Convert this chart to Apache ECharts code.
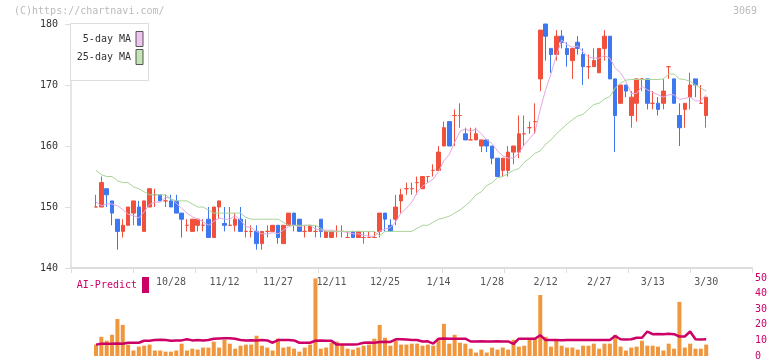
<!DOCTYPE html>
<html><head><meta charset="utf-8">
<script src="https://cdn.jsdelivr.net/npm/echarts@6/dist/echarts.min.js"></script>
<style>html,body{margin:0;padding:0;background:#fff;}#c{width:772px;height:361px;}</style>
</head><body><div id="c"></div>
<script>
const dates = ['10/7','10/8','10/9','10/10','10/14','10/15','10/16','10/17','10/20','10/21',
'10/22','10/23','10/24','10/27','10/28','10/29','10/30','10/31','11/4','11/5',
'11/6','11/7','11/10','11/11','11/12','11/13','11/14','11/17','11/18','11/19',
'11/20','11/21','11/25','11/26','11/27','11/28','12/1','12/2','12/3','12/4',
'12/5','12/8','12/9','12/10','12/11','12/12','12/15','12/16','12/17','12/18',
'12/19','12/22','12/23','12/24','12/25','12/26','12/29','12/30','1/5','1/6',
'1/7','1/8','1/9','1/13','1/14','1/15','1/16','1/19','1/20','1/21',
'1/22','1/23','1/26','1/27','1/28','1/29','1/30','2/2','2/3','2/4',
'2/5','2/6','2/9','2/10','2/12','2/13','2/16','2/17','2/18','2/19',
'2/20','2/24','2/25','2/26','2/27','3/2','3/3','3/4','3/5','3/6',
'3/9','3/10','3/11','3/12','3/13','3/16','3/17','3/18','3/19','3/23',
'3/24','3/25','3/26','3/27','3/30'];
const labelDates = ['10/28','11/12','11/27','12/11','12/25','1/14','1/28','2/12','2/27','3/13','3/30'];

const open = [150,150,153,151,148,146,147,149,150,146, 150,152,152,151,151,151,149,147,146,147,
147,148,145,150,147.3,147,147,148,146,146, 146,144,146,146,147,144,147,149,148,146,
146,146,148,145,145,146,146,145,146,145, 145,145,145,146,149,147,148,151,153,153,
154,153,155,156,156,160,164,165,165,162, 161,161,160,161,160,158,156,156,159,159,
162,163,164,171,180,176,175,178,176,174, 177,175,173,173,172,176,178,171,167,170,
165,167,171,171,167,167,167,173,171,165, 166,168,171,167,165];
const close = [150,154,152,149,146,147,150,151,147,151, 153,152,151,151,150,149,148,147,148,148,
147,145,150,151,147,147,148,146,146,146, 144,146,146,147,145,147,149,147,146,146,
147,146,146,146,146,146,146,145,145,146, 145,145,145,149,148,146,150,152,153,153,
154,155,155,156,159,163,160,165,165,161, 161,162,161,160,158,155,158,159,160,162,
162,163,164,179,178,175,178,177,175,176, 176,173,173,174,176,178,171,165,170,169,
168,171,171,167,167,166,169,173,167,163, 167,170,170,167,168];
const low = [150,150,150,147,143,145,147,147,147,146, 150,150,151,150,150,149,145,146,146,146,
146,145,145,148,146,147,146,146,145,145, 143,143,145,146,144,144,147,146,146,145,
146,145,145,145,145,145,145,145,145,145, 144,145,145,145,146,146,147,149,152,152,
152,153,154,155,156,160,160,160,163,161, 161,161,159,159,157,155,155,155,157,158,
160,162,162,169,174,172,174,176,173,171, 175,170,171,173,172,174,171,159,167,168,
163,164,169,166,166,165,166,171,167,160, 163,166,168,167,163];
const high = [152,155,153,151,148,148,150,151,151,151, 153,153,152,152,152,152,149,148,148,148,
148,150,150,151,150,150,149,150,148,147, 147,146,147,147,147,147,149,149,148,147,
147,147,148,146,146,147,147,146,146,146, 146,146,146,149,149,148,152,153,154,154,
155,155,155,157,160,164,164,166,167,163, 163,163,161,161,160,158,158,160,160,165,
165,164,167,179,180,176,179,179,177,176, 178,176,175,176,176,179,178,171,170,170,
169,171,171,171,169,168,171,173,171,167, 167,172,171,170,168];

const ma5 = [150.8,150.2,150.5,150.5,150.2,149.6,148.8,148.6,148.2,149.2,
150.4,150.8,150.8,151.6,151.4,150.6,149.8,149.0,148.4,148.0,
147.6,147.0,147.6,148.2,148.0,148.0,148.6,147.8,146.8,146.6,
146.0,145.6,145.6,145.8,145.6,146.2,146.8,147.0,146.8,147.0,
147.0,146.4,146.2,146.2,146.2,146.0,146.0,145.8,145.6,145.6,
145.4,145.2,145.2,146.0,146.4,146.6,147.6,149.0,149.8,150.8,
152.4,153.4,154.0,154.6,155.8,157.6,158.6,160.6,162.4,162.8,
162.4,162.8,162.0,161.0,160.4,159.2,158.4,158.0,158.0,158.8,
160.2,161.2,162.2,166.0,169.2,171.8,174.8,177.4,176.6,176.2,
176.4,175.4,174.6,174.4,174.4,174.8,174.4,172.8,172.0,170.6,
168.6,168.6,169.8,169.2,168.8,168.4,168.0,168.4,168.4,167.6,
167.8,168.0,167.4,167.4,168.4];
const ma25 = [156,155.3,155,155,154.3,154,154,153.3,153,152.5,
152,152,152,152,151.3,151,151,151,150.5,150,
150,149.5,149,149,149,149,149,149,148.3,148,
148,148,148,148,148,147.5,147,147,147,147,
147,147,146.5,146,146,146,146,146,146,146,
146,146,146,145.3,146,146,146,146,146,146,
146.5,147,147,147.5,148,148.2,148.5,149,149.5,150.2,
151,152,152.5,153.5,154,154.8,155,155.5,156,156.3,
157.3,158,158.8,159.2,160.3,161,162,162.8,163.6,164.3,
164.9,165.2,166,166.8,167,167.7,168.1,169.5,170.3,170.8,
170.9,170.9,170.9,170.9,170.9,170.9,171,171.8,171.8,171,
170.9,170.6,170,169.5,169];

const volume = [7.3,12.3,9.8,13.6,23.7,19.9,7.3,3.5,6.0,6.6,
7.3,3.5,3.5,2.8,2.8,3.5,7.9,3.5,4.7,4.1,
5.4,5.4,9.2,5.4,10.4,7.9,4.7,6.6,7.3,7.3,
13.0,6.6,5.4,3.5,11.1,5.4,6.0,4.7,2.8,5.4,
7.3,49.7,4.7,5.4,8.5,9.2,7.3,4.7,4.1,5.4,
6.6,7.3,11.1,19.9,11.7,6.6,9.8,7.3,7.3,7.9,
7.9,6.6,7.3,6.6,11.1,20.6,7.9,13.6,8.5,7.9,
4.7,2.2,4.1,2.2,5.4,4.1,5.4,4.1,10.4,6.0,
6.6,10.4,11.1,39.1,12.3,6.0,9.8,6.6,5.4,5.4,
4.1,6.6,6.6,7.9,4.7,7.9,7.9,13.6,6.0,3.5,
5.4,6.0,9.8,6.6,6.6,6.0,3.5,7.9,4.7,34.7,
5.4,7.9,4.7,4.7,7.3];
const aiPredict = [7.3,7.9,7.9,7.9,8.0,7.9,8.5,8.5,8.5,9.8,
9.8,10.2,10.4,10.2,9.8,9.9,10.0,10.7,10.0,10.2,
10.0,10.3,11.1,11.2,11.3,11.3,11.1,10.3,10.0,10.1,
10.0,10.2,10.0,8.5,10.2,10.3,10.2,10.0,8.5,8.5,
8.5,9.8,9.9,9.8,9.7,7.3,7.3,7.4,7.3,7.6,
8.5,8.6,8.5,9.0,9.1,9.0,10.7,10.7,10.5,10.3,
10.3,9.3,9.4,7.9,11.1,11.2,11.1,11.0,11.1,11.1,
9.3,9.3,9.4,9.3,9.3,9.4,9.3,9.3,7.7,11.1,
11.1,11.0,11.1,13.3,10.2,10.3,10.2,10.1,10.2,10.3,
10.2,10.2,10.3,10.2,10.2,10.3,10.2,12.8,10.7,10.6,
10.7,11.7,11.7,15.7,14.0,14.1,14.0,14.2,14.0,12.5,
12.5,15.7,10.7,10.6,10.7];

const priceMin = 140, priceMax = 180, priceStep = 10;
const volMin = 0, volMax = 50, volStep = 10;

const FONT = 'DejaVu Sans Mono';
const RED = '#f0503c', BLUE = '#3c78f0';
const PINK = '#e4a8e4', GREEN = '#a8d498', MAG = '#cc0066', ORANGE = '#f0963c';

const chart = echarts.init(document.getElementById('c'), null, {renderer: 'canvas'});
const frameCats = Array.from({length: 12}, (_, i) => String(i));

chart.setOption({
  animation: false,
  backgroundColor: '#fff',
  graphic: [
    {type: 'text', left: 14, top: 6, style: {text: '(C)https://chartnavi.com/', fill: '#bbb', font: '10px ' + FONT}},
    {type: 'text', right: 15, top: 6, style: {text: '3069', fill: '#bbb', font: '10px ' + FONT}},
    {type: 'rect', z: 1, shape: {x: 70.5, y: 23.5, width: 78, height: 57}, style: {fill: '#fff', stroke: '#ddd', lineWidth: 1}}
  ],
  legend: [
    {orient: 'vertical', align: 'right', right: 628.5, top: 31, padding: 0, itemWidth: 7, itemHeight: 15, itemGap: 2,
     icon: 'rect', selectedMode: false, z: 10,
     textStyle: {fontFamily: FONT, fontSize: 10, color: '#333'},
     data: [{name: '5-day MA', itemStyle: {color: '#f0c4f0', borderColor: '#555', borderWidth: 1}},
            {name: '25-day MA', itemStyle: {color: '#c4e4b4', borderColor: '#555', borderWidth: 1}}]},
    {orient: 'vertical', align: 'right', right: 623, top: 277, padding: 0, itemWidth: 7, itemHeight: 16,
     icon: 'rect', selectedMode: false,
     textStyle: {fontFamily: FONT, fontSize: 10, color: MAG},
     data: [{name: 'AI-Predict', itemStyle: {color: MAG, borderWidth: 0}}]}
  ],
  grid: [
    {left: 71, right: 20, top: 24, bottom: 93},
    {left: 93.32, right: 63.13, top: 24, bottom: 93},
    {left: 93.32, right: 63.13, top: 278, bottom: 3.5}
  ],
  xAxis: [
    {type: 'category', gridIndex: 0, data: frameCats, boundaryGap: false,
     axisLine: {lineStyle: {color: '#ddd', width: 2}},
     axisTick: {show: true, interval: 0, length: 5, lineStyle: {color: '#ddd'}},
     axisLabel: {show: false}, splitLine: {show: false}},
    {type: 'category', gridIndex: 1, data: dates,
     axisLine: {show: false}, axisTick: {show: false}, splitLine: {show: false},
     axisLabel: {margin: 9, color: '#555', fontFamily: FONT, fontSize: 10,
       interval: (idx, val) => labelDates.indexOf(val) >= 0 && idx >= 14}},
    {type: 'category', gridIndex: 2, data: dates, show: false}
  ],
  yAxis: [
    {type: 'value', gridIndex: 0, min: priceMin, max: priceMax, interval: priceStep,
     axisLine: {show: true, lineStyle: {color: '#ddd', width: 1.5}},
     axisTick: {show: true, length: 6, lineStyle: {color: '#ddd'}},
     axisLabel: {margin: 13, color: '#333', fontFamily: FONT, fontSize: 10},
     splitLine: {show: false}},
    {type: 'value', gridIndex: 1, min: priceMin, max: priceMax, show: false, splitLine: {show: false}},
    {type: 'value', gridIndex: 2, min: volMin, max: volMax, interval: volStep, position: 'right', offset: 43.13,
     axisLine: {show: false}, axisTick: {show: false}, splitLine: {show: false},
     axisLabel: {margin: 3, color: MAG, fontFamily: FONT, fontSize: 10}}
  ],
  series: [
    {name: 'Price', type: 'candlestick', xAxisIndex: 1, yAxisIndex: 1, barWidth: 4,
     data: dates.map((d, i) => [open[i], close[i], low[i], high[i]]),
     itemStyle: {color: RED, color0: BLUE, borderColor: RED, borderColor0: BLUE, borderColorDoji: RED, borderWidth: 1}},
    {name: '5-day MA', type: 'line', xAxisIndex: 1, yAxisIndex: 1, data: ma5, symbol: 'none',
     lineStyle: {color: PINK, width: 1}, itemStyle: {color: PINK}, z: 3},
    {name: '25-day MA', type: 'line', xAxisIndex: 1, yAxisIndex: 1, data: ma25, symbol: 'none',
     lineStyle: {color: GREEN, width: 1}, itemStyle: {color: GREEN}, z: 3},
    {name: 'Volume', type: 'bar', xAxisIndex: 2, yAxisIndex: 2, data: volume, barWidth: 4,
     itemStyle: {color: ORANGE}},
    {name: 'AI-Predict', type: 'line', xAxisIndex: 2, yAxisIndex: 2, data: aiPredict, symbol: 'none',
     lineStyle: {color: MAG, width: 2.5}, itemStyle: {color: MAG}, z: 4}
  ]
});
</script></body></html>
